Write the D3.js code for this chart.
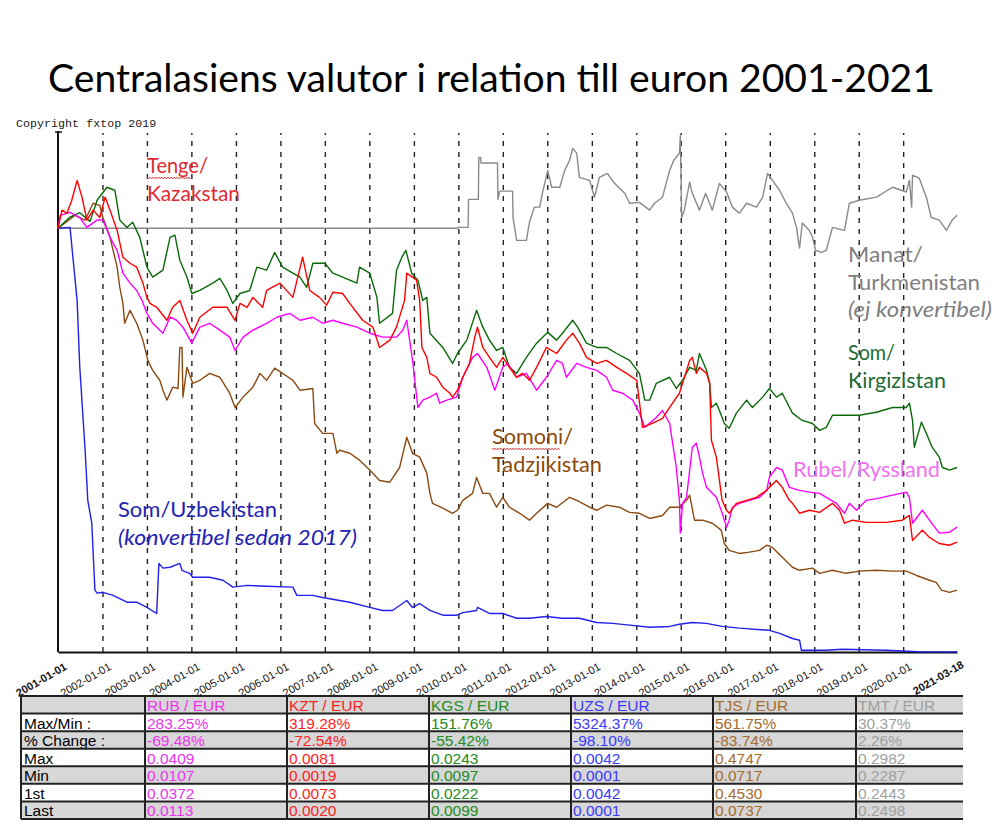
<!DOCTYPE html>
<html><head><meta charset="utf-8">
<script src="https://cdn.jsdelivr.net/npm/d3@7"></script>
<style>body{margin:0;background:#fff}</style>
</head><body>
<svg id="c" width="1007" height="831"></svg>
<script>
// ---- DATA (index: value on 2001-01-01 = 100; time as decimal year) ----
const tmt = [[2001.00,100.0],[2009.98,100.0],[2010.00,100.2],[2010.22,100.2],[2010.23,106.7],[2010.45,106.7],[2010.46,116.4],[2010.50,116.4],[2010.51,115.1],[2010.88,115.1],[2010.89,106.7],[2010.93,108.6],[2011.22,108.6],[2011.23,102.5],[2011.31,97.2],[2011.53,97.2],[2011.60,101.4],[2011.71,104.9],[2011.83,104.9],[2011.89,108.1],[2012.01,113.4],[2012.10,109.5],[2012.28,109.5],[2012.39,113.4],[2012.50,115.7],[2012.57,118.5],[2012.66,117.4],[2012.72,111.8],[2012.95,111.1],[2013.06,107.2],[2013.17,111.8],[2013.35,112.7],[2013.51,110.4],[2013.74,108.1],[2013.85,105.8],[2014.07,106.0],[2014.30,104.2],[2014.41,105.8],[2014.59,107.2],[2014.75,113.4],[2014.84,115.7],[2014.97,117.4],[2014.99,121.5],[2015.02,102.5],[2015.08,104.2],[2015.20,110.7],[2015.26,108.1],[2015.42,104.2],[2015.56,108.1],[2015.71,104.2],[2015.87,110.4],[2016.03,108.4],[2016.16,104.9],[2016.32,103.5],[2016.48,105.8],[2016.70,104.9],[2016.84,107.2],[2016.95,112.7],[2017.06,111.1],[2017.22,108.8],[2017.37,105.8],[2017.51,103.5],[2017.60,100.2],[2017.67,95.4],[2017.73,101.2],[2017.89,99.5],[2017.96,98.0],[2018.03,94.9],[2018.16,94.4],[2018.27,94.9],[2018.41,100.2],[2018.68,99.5],[2018.79,105.8],[2019.01,106.5],[2019.40,107.2],[2019.76,109.5],[2020.07,108.4],[2020.14,111.1],[2020.19,104.9],[2020.21,112.3],[2020.36,111.6],[2020.52,107.2],[2020.63,102.5],[2020.81,101.9],[2020.97,99.5],[2021.10,101.9],[2021.21,103.0]];
const uzs = [[2001.00,100.0],[2001.27,100.2],[2001.43,83.3],[2001.49,67.8],[2001.61,48.6],[2001.67,37.0],[2001.76,31.7],[2001.83,16.2],[2001.88,15.5],[2002.01,15.7],[2002.24,15.0],[2002.55,13.4],[2002.77,13.4],[2003.00,12.2],[2003.22,10.8],[2003.27,22.4],[2003.36,21.3],[2003.52,21.5],[2003.74,22.4],[2003.79,20.8],[2003.96,20.1],[2004.03,19.2],[2004.41,19.2],[2004.71,18.5],[2004.93,16.9],[2005.25,17.3],[2005.69,17.1],[2006.28,16.9],[2006.37,15.0],[2006.73,15.0],[2006.95,14.5],[2007.33,13.8],[2007.56,13.4],[2008.01,12.2],[2008.30,11.5],[2008.52,11.5],[2008.84,13.8],[2008.97,12.2],[2009.13,13.1],[2009.36,11.5],[2009.65,10.4],[2009.96,10.4],[2010.10,11.0],[2010.41,11.5],[2010.43,12.2],[2010.70,10.8],[2011.00,10.8],[2011.31,9.7],[2011.60,9.7],[2011.98,10.1],[2012.34,9.7],[2012.72,9.7],[2013.11,8.7],[2013.47,8.5],[2013.85,8.1],[2014.30,7.6],[2014.75,7.8],[2014.97,8.3],[2015.26,8.7],[2015.58,8.5],[2015.93,7.8],[2016.32,7.4],[2016.99,6.9],[2017.22,6.2],[2017.51,5.0],[2017.67,4.6],[2017.71,2.3],[2018.27,2.3],[2018.63,2.5],[2019.62,2.3],[2019.98,2.1],[2020.43,1.9],[2021.21,1.9]];
const tjs = [[2001.00,100.0],[2001.38,103.0],[2001.61,101.9],[2001.79,105.8],[2001.94,105.3],[2002.01,102.5],[2002.17,97.9],[2002.24,94.9],[2002.33,91.0],[2002.39,86.3],[2002.46,82.6],[2002.50,78.0],[2002.62,81.0],[2002.77,78.0],[2002.91,74.1],[2003.02,69.4],[2003.13,67.1],[2003.29,64.8],[2003.36,62.5],[2003.45,60.2],[2003.58,63.2],[2003.70,62.9],[2003.74,72.4],[2003.79,72.4],[2003.81,60.9],[2003.90,67.8],[2004.03,64.1],[2004.19,64.8],[2004.41,66.4],[2004.64,65.5],[2004.86,61.8],[2004.98,58.5],[2005.16,60.9],[2005.38,63.2],[2005.54,66.4],[2005.69,64.8],[2005.87,67.6],[2006.05,66.4],[2006.28,64.8],[2006.44,62.5],[2006.73,62.9],[2006.77,54.8],[2006.95,52.5],[2007.18,52.5],[2007.27,47.9],[2007.33,48.6],[2007.56,47.9],[2007.78,46.3],[2008.01,44.0],[2008.23,41.6],[2008.46,41.2],[2008.68,44.6],[2008.84,51.6],[2008.97,47.9],[2009.13,47.0],[2009.29,43.3],[2009.36,38.6],[2009.42,36.3],[2009.65,35.2],[2009.87,34.0],[2009.98,34.7],[2010.10,37.0],[2010.32,38.6],[2010.41,42.3],[2010.55,38.6],[2010.70,38.6],[2010.86,35.4],[2011.00,37.7],[2011.15,35.4],[2011.38,34.0],[2011.60,32.4],[2011.76,34.0],[2012.01,36.3],[2012.21,35.4],[2012.50,37.7],[2012.66,37.0],[2012.95,35.4],[2013.11,34.7],[2013.33,35.9],[2013.62,35.4],[2013.85,34.2],[2014.07,34.0],[2014.30,32.8],[2014.59,33.5],[2014.75,35.4],[2014.97,35.4],[2015.13,37.0],[2015.20,38.2],[2015.31,32.4],[2015.49,32.4],[2015.71,31.7],[2015.91,30.1],[2015.98,27.0],[2016.09,25.4],[2016.32,24.7],[2016.54,25.0],[2016.77,25.4],[2016.93,26.6],[2017.06,26.1],[2017.28,23.8],[2017.51,21.5],[2017.67,20.8],[2017.96,21.3],[2018.12,20.1],[2018.41,20.8],[2018.72,20.1],[2019.01,20.6],[2019.40,20.8],[2019.76,20.6],[2020.07,20.6],[2020.30,19.6],[2020.59,18.5],[2020.74,18.0],[2020.86,16.2],[2021.04,15.7],[2021.21,16.2]];
const kgs = [[2001.00,100.0],[2001.27,102.6],[2001.49,103.6],[2001.72,101.6],[2001.88,106.5],[2002.10,109.5],[2002.28,108.8],[2002.39,101.9],[2002.55,100.2],[2002.68,101.4],[2002.84,97.9],[2003.00,91.0],[2003.13,88.7],[2003.36,90.3],[2003.52,97.9],[2003.63,98.4],[2003.74,92.6],[2003.90,88.7],[2004.01,84.9],[2004.19,85.6],[2004.48,87.3],[2004.64,88.4],[2004.80,85.6],[2004.93,82.6],[2005.09,84.9],[2005.31,85.6],[2005.47,91.0],[2005.69,90.3],[2005.87,94.4],[2006.05,91.0],[2006.28,89.6],[2006.44,88.7],[2006.59,86.3],[2006.73,91.9],[2007.00,91.9],[2007.18,89.6],[2007.40,88.7],[2007.72,87.3],[2007.78,91.0],[2008.01,89.6],[2008.17,84.0],[2008.23,78.0],[2008.52,80.3],[2008.61,90.3],[2008.73,93.3],[2008.82,94.9],[2008.95,89.6],[2009.09,88.0],[2009.20,83.3],[2009.29,84.0],[2009.36,75.7],[2009.65,72.4],[2009.87,68.7],[2009.98,71.0],[2010.19,74.1],[2010.41,81.0],[2010.55,77.1],[2010.70,74.1],[2010.86,71.7],[2011.00,72.4],[2011.15,67.8],[2011.31,66.4],[2011.53,70.1],[2011.76,73.4],[2012.01,75.9],[2012.21,74.1],[2012.34,75.7],[2012.57,78.7],[2012.68,77.1],[2012.88,73.4],[2013.11,72.4],[2013.33,72.4],[2013.56,71.0],[2013.85,69.4],[2014.07,66.4],[2014.19,60.2],[2014.30,60.2],[2014.45,64.1],[2014.75,65.5],[2014.90,62.9],[2015.04,64.8],[2015.20,67.8],[2015.35,67.1],[2015.42,71.0],[2015.58,67.1],[2015.65,64.1],[2015.69,58.5],[2015.80,59.5],[2015.87,57.8],[2015.98,54.8],[2016.09,53.7],[2016.25,57.2],[2016.48,60.2],[2016.61,58.5],[2016.84,60.9],[2016.99,62.9],[2017.15,60.9],[2017.28,61.8],[2017.51,57.2],[2017.73,55.5],[2017.96,54.8],[2018.12,53.2],[2018.27,53.9],[2018.41,56.7],[2018.72,56.7],[2019.01,56.7],[2019.40,57.4],[2019.76,58.5],[2020.07,58.5],[2020.14,59.5],[2020.21,55.5],[2020.25,49.3],[2020.41,55.1],[2020.52,52.5],[2020.65,49.3],[2020.81,47.0],[2020.88,44.6],[2021.04,44.0],[2021.21,44.6]];
const rub = [[2001.00,100.0],[2001.05,103.0],[2001.27,103.7],[2001.49,102.5],[2001.65,100.2],[2001.88,101.9],[2002.01,101.9],[2002.17,97.9],[2002.33,94.9],[2002.46,89.6],[2002.62,87.3],[2002.77,85.6],[2002.89,83.3],[2003.00,80.3],[2003.13,78.0],[2003.36,75.7],[2003.52,79.4],[2003.67,78.7],[2003.81,77.1],[2004.01,73.4],[2004.19,77.1],[2004.41,78.0],[2004.64,76.4],[2004.86,74.8],[2004.98,71.7],[2005.16,74.8],[2005.38,76.4],[2005.69,78.0],[2005.92,79.4],[2006.21,80.3],[2006.44,78.7],[2006.73,79.4],[2006.95,78.0],[2007.18,78.7],[2007.40,78.0],[2007.72,77.1],[2008.01,75.7],[2008.30,74.8],[2008.61,74.8],[2008.75,76.4],[2008.84,78.7],[2008.97,69.4],[2009.09,58.5],[2009.20,60.2],[2009.36,60.9],[2009.51,61.8],[2009.58,59.5],[2009.74,60.2],[2009.96,60.9],[2010.10,65.5],[2010.32,70.1],[2010.43,71.0],[2010.64,67.8],[2010.82,62.5],[2011.00,67.8],[2011.11,68.7],[2011.31,65.5],[2011.53,66.4],[2011.76,62.5],[2011.98,65.5],[2012.21,69.4],[2012.34,68.7],[2012.43,65.5],[2012.66,68.7],[2012.88,67.8],[2013.11,67.1],[2013.33,65.5],[2013.47,62.5],[2013.69,61.8],[2013.92,60.2],[2014.07,57.2],[2014.19,53.9],[2014.45,56.2],[2014.59,57.8],[2014.75,54.8],[2014.90,44.6],[2014.97,37.0],[2014.99,29.4],[2015.04,36.3],[2015.13,37.7],[2015.26,49.3],[2015.35,50.2],[2015.42,47.0],[2015.49,43.3],[2015.58,40.0],[2015.65,39.3],[2015.80,37.7],[2015.91,34.7],[2016.03,30.8],[2016.09,32.4],[2016.16,35.4],[2016.32,36.3],[2016.54,37.0],[2016.77,37.7],[2016.93,39.3],[2016.99,42.3],[2017.15,44.6],[2017.28,44.0],[2017.44,40.0],[2017.67,39.3],[2017.89,38.9],[2018.12,38.6],[2018.27,37.7],[2018.50,36.3],[2018.68,34.0],[2018.79,36.3],[2018.95,34.7],[2019.17,37.0],[2019.46,37.5],[2019.76,38.2],[2020.07,38.9],[2020.14,37.7],[2020.21,31.7],[2020.43,34.7],[2020.59,32.4],[2020.81,29.4],[2021.04,29.6],[2021.21,30.8]];
const kzt = [[2001.00,100.0],[2001.09,104.2],[2001.20,103.5],[2001.31,106.5],[2001.43,111.1],[2001.54,107.2],[2001.65,101.9],[2001.79,104.2],[2001.94,102.5],[2002.06,107.2],[2002.17,104.2],[2002.33,99.5],[2002.46,93.3],[2002.62,91.9],[2002.77,91.0],[2002.91,87.3],[2003.00,84.0],[2003.07,82.6],[2003.22,81.7],[2003.45,78.7],[2003.58,81.7],[2003.74,83.3],[2003.90,78.7],[2004.03,75.7],[2004.19,79.4],[2004.48,81.7],[2004.80,81.7],[2004.98,78.7],[2005.09,82.6],[2005.25,81.7],[2005.38,84.0],[2005.60,81.7],[2005.69,85.6],[2005.99,87.3],[2006.28,84.0],[2006.50,93.3],[2006.66,85.6],[2006.88,84.0],[2007.04,82.2],[2007.18,85.2],[2007.40,84.9],[2007.56,82.6],[2007.85,78.7],[2008.08,77.1],[2008.23,72.4],[2008.46,74.1],[2008.61,77.1],[2008.79,83.3],[2008.84,89.6],[2009.06,88.0],[2009.13,83.3],[2009.18,72.4],[2009.29,70.1],[2009.36,66.4],[2009.51,65.5],[2009.65,63.2],[2009.81,61.8],[2009.87,60.9],[2009.98,62.5],[2010.10,65.5],[2010.25,68.7],[2010.37,74.8],[2010.43,77.1],[2010.55,72.4],[2010.70,70.1],[2010.86,67.8],[2011.00,70.1],[2011.15,67.8],[2011.31,65.5],[2011.44,66.4],[2011.60,64.8],[2011.76,67.8],[2011.98,72.4],[2012.21,71.0],[2012.43,74.1],[2012.57,75.7],[2012.72,73.4],[2012.88,70.1],[2013.11,68.7],[2013.33,69.4],[2013.56,67.8],[2013.78,66.4],[2014.01,64.8],[2014.14,53.9],[2014.36,54.8],[2014.59,56.0],[2014.75,58.5],[2014.97,61.8],[2015.20,69.4],[2015.26,70.1],[2015.35,66.4],[2015.42,67.8],[2015.58,66.4],[2015.65,64.1],[2015.69,50.9],[2015.80,47.0],[2015.87,41.6],[2015.93,37.0],[2016.03,34.7],[2016.09,34.0],[2016.25,36.3],[2016.48,37.0],[2016.70,37.7],[2016.93,39.3],[2016.99,40.0],[2017.15,41.6],[2017.28,40.0],[2017.44,37.0],[2017.51,36.3],[2017.67,34.0],[2017.89,34.7],[2018.12,34.2],[2018.41,36.3],[2018.57,34.7],[2018.68,31.7],[2018.86,32.4],[2019.17,31.9],[2019.62,31.9],[2019.98,32.4],[2020.14,33.5],[2020.21,27.7],[2020.43,30.1],[2020.59,28.4],[2020.81,27.0],[2021.04,26.6],[2021.21,27.3]];

const tickYears = [2002,2003,2004,2005,2006,2007,2008,2009,2010,2011,2012,2013,2014,2015,2016,2017,2018,2019,2020];
const startDate = "2001-01-01", endDate = "2021-03-18";

const rowLabels = ["Max/Min :","% Change :","Max","Min","1st","Last"];
const colHeads = ["RUB / EUR","KZT / EUR","KGS / EUR","UZS / EUR","TJS / EUR","TMT / EUR"];
const rubStats = ["283.25%","-69.48%","0.0409","0.0107","0.0372","0.0113"];
const kztStats = ["319.28%","-72.54%","0.0081","0.0019","0.0073","0.0020"];
const kgsStats = ["151.76%","-55.42%","0.0243","0.0097","0.0222","0.0099"];
const uzsStats = ["5324.37%","-98.10%","0.0042","0.0001","0.0042","0.0001"];
const tjsStats = ["561.75%","-83.74%","0.4747","0.0717","0.4530","0.0737"];
const tmtStats = ["30.37%","2.26%","0.2982","0.2287","0.2443","0.2498"];

// ---- CHART ----
const svg = d3.select("#c");
svg.append("rect").attr("width",1007).attr("height",831).attr("fill","#fff");
const parse = d3.timeParse("%Y-%m-%d");
const toDate = t => { const y = Math.floor(t); const a = new Date(y,0,1), b = new Date(y+1,0,1); return new Date(+a + (t-y)*(b-a)); };

const x = d3.scaleTime().domain([parse(startDate), parse(endDate)]).range([58, 957]);
// y range: lowest index (UZS min) to highest (TMT max), from the table
const yMin = 100 / (parseFloat(uzsStats[0]) / 100);
const yMax = 100 * parseFloat(tmtStats[2]) / parseFloat(tmtStats[4]);
const y = d3.scaleLinear().domain([yMin, yMax]).range([652, 133]);

const FONT = "Lato, 'Open Sans', sans-serif";

// title
svg.append("text").attr("x",48).attr("y",92).attr("font-family",FONT).attr("font-size",39)
  .attr("textLength",887).attr("lengthAdjust","spacingAndGlyphs").attr("fill","#000")
  .text("Centralasiens valutor i relation till euron 2001-2021");

svg.append("text").attr("x",16).attr("y",127).attr("font-family","'Liberation Mono', monospace")
  .attr("font-size",11.7).attr("fill","#222").text("Copyright fxtop 2019");

// x axis with dashed year lines
const tickDates = [parse(startDate), ...tickYears.map(yy => new Date(yy,0,1)), parse(endDate)];
const fmt = d3.timeFormat("%Y-%m-%d");
const last = tickDates.length - 1;
const xg = svg.append("g").attr("transform","translate(0,652)")
  .call(d3.axisBottom(x).tickValues(tickDates).tickFormat(fmt).tickSize(-519).tickSizeOuter(0));
xg.select(".domain").attr("stroke","#111").attr("stroke-width",2);
xg.selectAll(".tick line").attr("stroke","#222").attr("stroke-width",1.4).attr("stroke-dasharray","5,6");
xg.selectAll(".tick").filter((d,i) => i === 0 || i === last).select("line").remove();
xg.selectAll(".tick text").attr("y",null).attr("dy",null).attr("text-anchor","end")
  .attr("transform",(d,i) => i === last ? "translate(7,15) rotate(-30)" : "translate(9,17) rotate(-30)")
  .attr("font-family","'Liberation Sans', Arial, sans-serif").attr("font-size",11).attr("fill","#111")
  .attr("font-weight",(d,i) => (i === 0 || i === last) ? "bold" : "normal");

// y axis line
svg.append("line").attr("x1",58).attr("x2",58).attr("y1",131).attr("y2",652).attr("stroke","#111").attr("stroke-width",2);
svg.append("line").attr("x1",55).attr("x2",62).attr("y1",132).attr("y2",132).attr("stroke","#111").attr("stroke-width",1.5);

const line = d3.line().x(d => x(toDate(d[0]))).y(d => y(d[1]));
const series = [
  {data: tmt, color: "#8a8a8a"},
  {data: uzs, color: "#2020e8"},
  {data: tjs, color: "#8b4a12"},
  {data: kgs, color: "#0a6a0a"},
  {data: rub, color: "#ff00ff"},
  {data: kzt, color: "#ff0000"}
];
svg.append("g").selectAll("path").data(series).join("path")
  .attr("d", s => line(s.data)).attr("fill","none").attr("stroke", s => s.color)
  .attr("stroke-width",1.4).attr("stroke-linejoin","round");

// annotations
const notes = [
  {t:"Tenge/", x:147, y:173, w:61, c:"#de2a32"},
  {t:"Kazakstan", x:147, y:201, w:93, c:"#de2a32"},
  {t:"Manat/", x:848, y:262, w:75, c:"#7f7f7f"},
  {t:"Turkmenistan", x:848, y:290, w:132, c:"#7f7f7f"},
  {t:"(ej konvertibel)", x:848, y:317, w:144, c:"#7f7f7f", i:true},
  {t:"Som/", x:848, y:360, w:47, c:"#1e6b32"},
  {t:"Kirgizistan", x:848, y:388, w:98, c:"#1e6b32"},
  {t:"Somoni/", x:492, y:444, w:81, c:"#8c4a0c"},
  {t:"Tadzjikistan", x:492, y:472, w:110, c:"#8c4a0c"},
  {t:"Rubel/Ryssland", x:793, y:477, w:147, c:"#f070f0"},
  {t:"Som/Uzbekistan", x:118, y:517, w:159, c:"#2323b3"},
  {t:"(konvertibel sedan 2017)", x:118, y:545, w:239, c:"#2323b3", i:true}
];
svg.append("g").selectAll("text").data(notes).join("text")
  .attr("x",d=>d.x).attr("y",d=>d.y).attr("fill",d=>d.c).attr("font-family",FONT).attr("font-size",21)
  .attr("font-style",d=>d.i?"italic":"normal").attr("textLength",d=>d.w).attr("lengthAdjust","spacingAndGlyphs")
  .text(d=>d.t);

// spell-check squiggles
function squiggle(x0, x1, yy) {
  const pts = d3.range(x0, x1, 1.5).map((xx,i) => [xx, yy + (i%2 ? 1 : -1)]);
  svg.append("path").attr("d", d3.line()(pts)).attr("fill","none").attr("stroke","#e03030").attr("stroke-width",0.8);
}
squiggle(147, 191, 178);
squiggle(492, 561, 449);

// ---- TABLE ----
const colX = [21,145,287,429,571,713,856,963];
const top0 = 696, rh = 17.57;
const stats = [rubStats,kztStats,kgsStats,uzsStats,tjsStats,tmtStats];
const tcol = ["#ee33ee","#ff2222","#228b22","#3a3aff","#a66c2e","#a0a0a0"];
const tg = svg.append("g");
for (let r = 0; r < 7; r++) {
  const gray = (r === 0) || (r % 2 === 0);
  tg.append("rect").attr("x",colX[0]).attr("y",top0 + r*rh).attr("width",colX[7]-colX[0]).attr("height",rh)
    .attr("fill", gray ? "#d7d7d7" : "#ffffff");
}
const TF = "'Liberation Sans', Arial, sans-serif";
tg.selectAll("text.h").data(colHeads).join("text").attr("class","h")
  .attr("x",(d,i)=>colX[i+1]+2).attr("y",top0+15).attr("fill",(d,i)=>tcol[i])
  .attr("font-family",TF).attr("font-size",15.5).text(d=>d);
tg.selectAll("text.l").data(rowLabels).join("text").attr("class","l")
  .attr("x",colX[0]+3).attr("y",(d,i)=>top0+(i+1)*rh+15).attr("fill","#000")
  .attr("font-family",TF).attr("font-size",15.5).text(d=>d);
stats.forEach((col, ci) => {
  tg.selectAll("text.c"+ci).data(col).join("text").attr("class","c"+ci)
    .attr("x",colX[ci+1]+2).attr("y",(d,i)=>top0+(i+1)*rh+15).attr("fill",tcol[ci])
    .attr("font-family",TF).attr("font-size",15.5).text(d=>d);
});
for (let r = 0; r <= 7; r++) {
  tg.append("line").attr("x1",colX[0]).attr("x2",colX[7]).attr("y1",top0+r*rh).attr("y2",top0+r*rh)
    .attr("stroke","#222").attr("stroke-width",2);
}
for (let c = 0; c < 7; c++) {
  tg.append("line").attr("x1",colX[c]).attr("x2",colX[c]).attr("y1",top0).attr("y2",top0+7*rh)
    .attr("stroke","#222").attr("stroke-width",2);
}
</script>
</body></html>
